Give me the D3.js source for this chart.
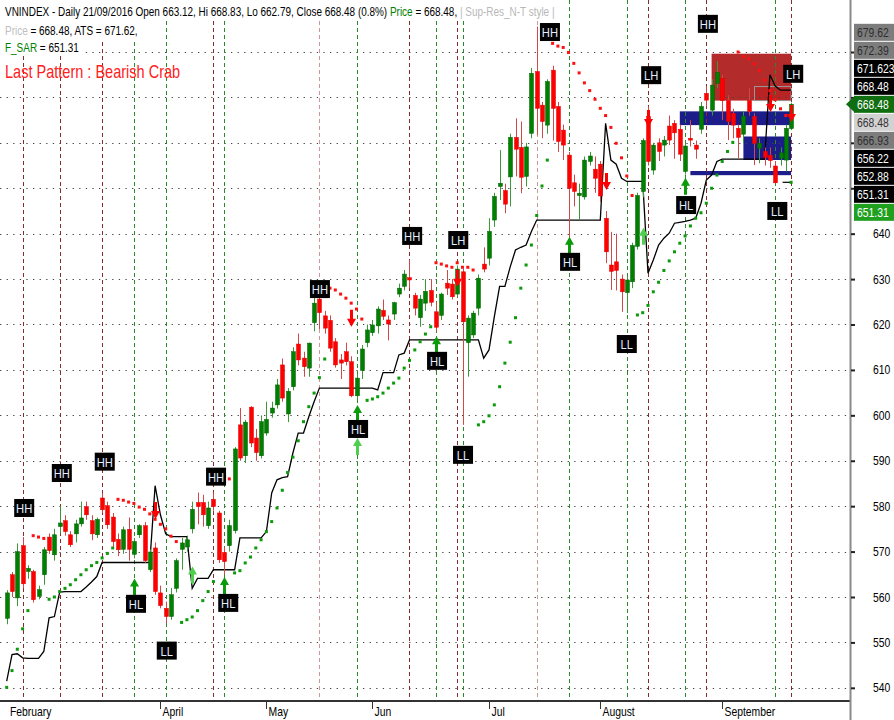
<!DOCTYPE html>
<html>
<head>
<meta charset="utf-8">
<script src="https://cdnjs.cloudflare.com/ajax/libs/d3/7.8.5/d3.min.js"></script>
<style>
body { margin: 0; background: #fff; }
svg { display: block; font-family: "Liberation Sans", Arial, sans-serif; }
</style>
</head>
<body>
<div id="chart"></div>
<script>
// bar index 0 = 22 Feb 2016 ... 148 = 21 Sep 2016
var opens = [555.3,564.9,559.8,571.3,565.6,565.6,560.1,564.9,573.2,569.3,575.5,576.8,573.7,573.9,576.1,579.9,576.8,573.7,581.8,580.1,
  577.6,572.7,570.5,574.9,569.4,573.7,575.7,566.0,570.8,560.9,557.5,555.7,561.9,570.5,571.0,575.0,580.8,580.8,575.7,581.5,
  578.5,569.8,571.3,574.6,597.9,591.1,601.8,595.0,591.1,596.1,600.5,602.3,611.1,600.3,606.3,615.7,612.6,610.4,620.4,625.6,
  621.9,620.9,616.2,612.2,614.0,611.8,604.3,609.9,616.0,618.2,619.7,623.1,621.0,622.3,626.7,628.4,630.3,626.4,621.5,624.7,
  627.5,622.8,622.0,629.1,628.9,626.7,631.6,616.0,617.7,623.6,633.3,634.6,643.0,650.4,649.5,652.5,661.2,659.0,652.6,662.1,
  675.7,668.3,663.9,676.0,668.0,662.8,657.3,651.2,648.4,648.1,655.9,654.2,655.3,643.4,633.1,633.8,630.0,627.0,629.4,637.2,
  649.3,665.8,654.0,660.0,659.5,663.7,664.3,663.0,653.7,661.0,659.5,663.0,670.9,667.2,673.1,674.2,669.3,666.5,663.2,661.9,
  669.3,665.8,658.8,658.1,657.3,654.9,656.6,656.2,663.12];
var highs = [561.5,565.5,571.8,573.2,567.0,566.0,562.5,571.0,574.0,575.0,580.0,578.0,574.5,577.0,581.0,581.0,578.0,577.5,582.9,581.0,
  578.5,574.0,575.5,577.5,573.0,576.0,576.5,570.5,572.0,562.5,559.0,562.0,568.5,573.0,573.5,581.0,583.0,582.5,581.0,583.0,
  579.0,571.0,577.0,593.0,601.6,599.0,602.0,597.0,600.0,603.0,603.0,608.0,612.5,606.0,615.0,618.0,614.0,616.0,626.0,628.0,
  623.0,622.0,617.0,613.5,616.0,613.0,609.0,615.5,620.0,621.0,624.0,625.5,622.0,625.0,629.0,632.0,634.2,627.0,626.5,630.0,
  630.0,625.0,627.0,632.0,630.0,633.0,632.5,622.0,623.0,631.0,637.0,643.4,649.0,658.4,651.0,662.0,665.4,664.7,660.0,676.5,
  685.6,669.0,674.0,677.0,669.0,664.0,658.0,653.0,651.0,657.0,658.0,657.0,656.0,645.0,640.4,640.0,631.0,630.5,638.0,649.0,
  661.0,668.0,660.0,661.0,661.5,666.0,665.0,664.0,660.0,665.0,660.5,669.0,672.5,674.0,678.0,675.0,670.5,667.5,664.0,667.0,
  672.0,666.5,661.0,659.0,659.0,656.0,659.0,664.0,668.83];
var lows = [554.0,560.0,558.0,562.0,564.0,558.8,559.5,562.7,569.5,568.0,574.0,573.5,571.0,572.0,575.5,577.0,572.5,573.0,578.5,575.0,
  571.0,569.0,569.5,568.0,568.5,573.0,567.5,565.5,560.5,557.5,554.2,555.0,561.0,566.0,570.0,574.0,576.0,575.5,575.0,579.0,
  567.5,565.0,570.0,574.0,590.0,589.5,593.0,590.0,590.5,595.5,599.5,601.5,603.0,598.5,605.5,611.0,608.5,608.5,618.5,619.0,
  618.0,614.0,610.5,608.0,611.0,604.0,603.5,608.0,615.0,617.5,618.0,621.0,616.5,621.0,626.0,627.5,628.0,622.0,619.5,623.0,
  624.0,618.5,621.0,626.5,625.5,626.0,597.9,608.5,617.0,622.0,631.5,633.0,641.5,647.4,644.5,646.0,652.6,648.9,650.4,661.0,
  661.7,661.0,662.0,660.5,658.0,656.2,639.0,646.0,643.0,647.5,655.0,649.0,647.0,633.5,627.6,627.5,622.8,622.5,628.0,636.5,
  648.0,655.0,653.0,656.0,657.0,659.5,656.5,656.0,653.0,659.2,656.5,662.0,668.0,666.0,672.0,665.0,660.6,661.0,656.6,660.0,
  666.0,655.1,655.5,655.0,654.5,651.0,655.0,653.7,662.79];
var closes = [560.9,561.2,570.0,562.9,566.3,559.4,561.6,570.4,570.2,573.7,576.3,574.4,571.5,576.1,577.4,578.1,573.9,577.1,579.2,575.9,
  572.2,570.4,574.8,570.5,572.2,575.7,568.0,569.9,561.2,558.1,555.7,560.5,568.0,571.9,572.6,579.3,579.9,578.1,579.6,579.9,
  568.2,567.8,575.7,592.6,590.6,598.5,593.9,591.8,598.6,599.1,601.6,606.7,603.8,605.3,614.0,612.2,610.7,615.9,624.7,622.6,
  619.2,614.8,611.1,611.5,611.8,604.3,608.2,614.6,618.8,619.9,623.4,621.8,620.1,624.8,628.0,631.1,629.8,623.6,625.6,627.3,
  624.9,619.4,626.7,628.0,626.1,632.2,620.6,621.4,622.5,630.2,632.2,640.5,648.2,651.1,646.5,661.2,658.6,652.4,659.1,675.3,
  667.6,664.7,673.5,667.6,660.3,659.5,650.0,649.3,648.9,656.2,657.1,652.2,648.3,636.0,631.7,631.9,627.2,629.8,637.4,648.4,
  660.5,655.9,659.5,658.1,660.6,660.6,662.2,657.5,659.3,660.6,658.6,668.0,669.4,672.7,675.5,669.3,664.7,663.9,661.2,665.9,
  666.9,659.9,659.9,656.8,656.1,651.2,657.8,663.2,668.48];

// adaptive trailing stop (black line)
var ats = [541.5,547.3,547.5,546.6,546.5,546.5,546.5,548.0,555.4,555.7,561.1,561.2,561.2,561.2,561.2,562.2,563.3,564.5,567.6,567.6,
  567.6,567.6,567.6,567.6,567.6,567.6,567.6,567.6,584.5,578.1,573.9,573.3,573.3,573.3,573.3,561.9,564.1,564.1,564.1,566.0,
  566.0,566.0,566.0,566.0,573.0,573.0,573.0,573.0,573.0,574.4,582.9,585.8,586.3,586.5,591.7,596.1,596.1,599.7,603.0,606.0,
  606.0,606.0,606.0,606.0,606.0,606.0,606.0,606.0,606.0,606.0,605.6,609.4,609.4,609.4,613.3,613.7,616.6,616.6,616.6,616.6,
  616.6,616.6,616.6,616.6,616.6,616.6,616.6,616.6,616.6,616.6,612.6,614.4,621.7,628.4,628.4,632.7,636.4,637.0,637.5,640.5,
  643.0,643.0,643.0,643.0,643.0,643.0,643.0,643.0,643.0,643.0,643.0,643.0,643.0,664.3,656.2,655.3,652.2,651.5,651.5,651.5,
  651.5,631.3,634.2,637.5,639.0,640.1,642.3,642.5,642.7,643.0,643.4,646.7,651.8,652.9,655.9,656.4,656.4,656.4,656.4,656.4,
  656.4,656.4,656.4,656.4,675.0,672.5,671.6,671.6,671.62];

// parabolic SAR dots and their side (g = below price, r = above)
var sar = [540.1,543.8,548.5,553.0,557.0,573.5,573.2,572.9,559.5,560.0,561.2,561.9,562.7,563.8,564.9,566.0,566.9,567.6,568.6,569.6,
  570.8,581.5,581.3,580.9,580.6,579.8,579.3,578.3,577.1,576.0,575.0,573.4,572.2,554.4,555.0,555.6,557.0,559.2,561.2,563.4,
  587.0,586.5,586.0,565.3,565.8,567.5,568.8,570.8,572.6,574.4,576.6,579.6,583.5,587.4,590.8,594.4,598.6,601.9,604.9,608.3,
  612.4,628.0,627.6,626.7,625.8,624.7,623.4,621.2,603.3,603.6,604.1,604.9,606.0,607.1,608.2,610.4,612.1,614.4,616.2,617.9,
  619.5,633.6,633.3,632.9,632.6,633.6,632.6,632.6,632.0,597.9,598.6,599.9,602.3,606.3,611.5,616.1,621.5,628.0,633.1,637.5,
  644.0,650.5,656.2,681.9,681.3,681.0,679.9,677.5,675.4,673.2,671.5,669.6,667.6,666.0,663.4,659.9,656.7,652.7,648.4,622.1,
  622.6,624.2,627.2,629.3,631.9,634.0,636.0,637.9,639.5,641.7,643.4,644.6,646.7,650.0,652.9,655.9,658.1,660.1,680.0,679.0,
  678.5,677.4,675.9,673.8,671.5,669.5,667.5,666.0,651.31];
var sarSide = "gggggrrrggggggggggggg" + "rrrrrrrrrrrr" + "ggggggg" + "rrr" + "gggggggggggggggggg" + "rrrrrrr" +
  "ggggggggggggg" + "rrrrrrrr" + "gggggggggggggg" + "rrrrrrrrrrrrrrrr" + "ggggggggggggggggggg" + "rrrrrrrrrr" + "g";

// swing pivots
var pivotIdx   = [3, 10, 18, 24, 30, 39, 41, 59, 66, 76, 81, 85, 86, 100, 106, 117, 121, 128, 132, 145, 148];
var pivotType  = ["HH","HH","HH","HL","LL","HH","HL","HH","HL","HH","HL","LH","LL","HH","HL","LL","LH","HL","HH","LL","LH"];
var pivotLabelAt  = [3.3, 10.4, 18.5, 24.4, 30.2, 39.5, 41.8, 59.1, 66.3, 76.5, 81.2, 85.2, 86.1, 102.5, 106.3, 117, 121.6, 128.2, 132.3, 145.4, 148.4];
var pivotLabelVal = [579.6, 587.3, 589.8, 558.5, 548.2, 586.5, 558.7, 627.8, 597.0, 639.5, 612.0, 638.6, 591.3, 684.4, 633.8, 615.7, 674.9, 646.3, 686.2, 645.0, 675.2];
var pivotFaint = [59, 100];

// signal arrows: bar index, price at arrow tip
var buyIdx = [24, 35, 41, 66, 66, 81, 106, 120, 128];
var buyVal = [564.1, 566.7, 564.4, 602.3, 595.0, 617.4, 639.3, 641.3, 652.3];
var buyFaint = [false, true, false, false, true, false, false, true, false];
var sellIdx = [28, 65, 85, 113, 121, 144, 148];
var sellVal = [577.2, 619.5, 628.3, 649.6, 663.5, 666.8, 664.6];

// support / resistance zones: from bar, to bar, top, bottom
var zoneFrom = [133, 141.1, 127, 139, 129];
var zoneTo   = [148, 148, 148, 148, 148];
var zoneTop  = [679.62, 672.39, 666.93, 661.4, 653.8];
var zoneBot  = [669.3, 669.3, 663.9, 656.22, 652.88];
var zoneKind = ["res", "res2", "sup", "sup", "sup"];

var yTicks = [540, 550, 560, 570, 580, 590, 600, 610, 620, 630, 640, 650, 660, 670, 680];
var monthNames = ["April", "May", "Jun", "Jul", "August", "September"];
var monthIdx = [29, 49, 69, 91, 112, 135];

var rightValues = ["679.62", "672.39", "671.623", "668.48", "668.48", "668.48", "666.93", "656.22", "652.88", "651.31", "651.31"];
var rightKinds  = ["gray", "gray", "black", "black", "close", "light", "gray", "black", "black", "black", "sar"];

// ---------------------------------------------------------------
var W = 894, H = 720;
var plotRight = 850, axisY = 701;
var K = 0.83; // narrow font look

var svg = d3.select("#chart").append("svg")
  .attr("width", W).attr("height", H);

var x = d3.scaleLinear().domain([0, 148]).range([6.7, 791.1]);
var y = d3.scaleLinear().domain([537.1, 691.45]).range([axisY, 0]);

svg.append("clipPath").attr("id", "plot")
  .append("rect").attr("x", 0).attr("y", 0).attr("width", plotRight).attr("height", axisY);

var plot = svg.append("g").attr("clip-path", "url(#plot)");

// zones
var zoneFill = { res: "#b32b2b", res2: "#b82424", sup: "#1c1c8a" };
plot.append("g").selectAll("rect")
  .data(zoneFrom)
  .enter().append("rect")
  .attr("x", function(d) { return x(d); })
  .attr("width", function(d, i) { return x(zoneTo[i]) - x(d); })
  .attr("y", function(d, i) { return y(zoneTop[i]); })
  .attr("height", function(d, i) { return y(zoneBot[i]) - y(zoneTop[i]); })
  .attr("fill", function(d, i) { return zoneFill[zoneKind[i]]; })
  .attr("stroke", function(d, i) { return zoneKind[i] == "res2" ? "#999" : "none"; })
  .attr("stroke-width", 1);

// horizontal dotted grid
plot.append("g").selectAll("line")
  .data(yTicks)
  .enter().append("line")
  .attr("x1", 0).attr("x2", plotRight)
  .attr("y1", function(d) { return Math.round(y(d)) + 0.5; })
  .attr("y2", function(d) { return Math.round(y(d)) + 0.5; })
  .attr("stroke", "#444")
  .attr("stroke-dasharray", "1.3,5.3");

// vertical pivot lines
plot.append("g").selectAll("line")
  .data(pivotIdx)
  .enter().append("line")
  .attr("x1", function(d) { return Math.round(x(d)) + 0.5; })
  .attr("x2", function(d) { return Math.round(x(d)) + 0.5; })
  .attr("y1", 0).attr("y2", axisY)
  .attr("stroke", function(d, i) {
    var hi = pivotType[i].charAt(1) == "H";
    if (pivotFaint.indexOf(d) >= 0) return hi ? "#c99" : "#8c8";
    return hi ? "#8b2a2a" : "#2a8a2a";
  })
  .attr("stroke-dasharray", "4,3");

// ATS line
var atsLine = d3.line()
  .x(function(d, i) { return x(i); })
  .y(function(d) { return y(d); });
plot.append("path")
  .datum(ats)
  .attr("d", atsLine)
  .attr("fill", "none")
  .attr("stroke", "#000")
  .attr("stroke-width", 1.3);

// F_SAR level tick at the end
plot.append("line")
  .attr("x1", x(146.4)).attr("x2", x(148))
  .attr("y1", y(sar[148])).attr("y2", y(sar[148]))
  .attr("stroke", "#000").attr("stroke-width", 1.2);

// SAR dots
plot.append("g").selectAll("rect")
  .data(sar)
  .enter().append("rect")
  .attr("x", function(d, i) { return x(i) - 1.5; })
  .attr("y", function(d) { return y(d) - 1.5; })
  .attr("width", 3).attr("height", 3)
  .attr("fill", function(d, i) { return sarSide.charAt(i) == "g" ? "#0a9a0a" : "#ff1010"; });

// candles
var bars = plot.append("g").selectAll("g")
  .data(closes)
  .enter().append("g");
bars.append("line")
  .attr("x1", function(d, i) { return Math.round(x(i)) + 0.5; })
  .attr("x2", function(d, i) { return Math.round(x(i)) + 0.5; })
  .attr("y1", function(d, i) { return y(highs[i]); })
  .attr("y2", function(d, i) { return y(lows[i]); })
  .attr("stroke", function(d, i) { return d >= opens[i] ? "#3a9a3a" : "#d04848"; })
  .attr("stroke-width", 1);
bars.append("rect")
  .attr("x", function(d, i) { return Math.round(x(i)) - 1.5; })
  .attr("width", 4)
  .attr("y", function(d, i) { return y(Math.max(d, opens[i])); })
  .attr("height", function(d, i) { return Math.max(1, Math.abs(y(d) - y(opens[i]))); })
  .attr("fill", function(d, i) { return d >= opens[i] ? "#008000" : "#ff0000"; })
  .attr("stroke", function(d, i) { return d >= opens[i] ? "#006000" : "#e00000"; })
  .attr("stroke-width", 0.5);

// arrows
function upArrow(cx, ty) {
  return "M" + cx + "," + ty + "L" + (cx + 4.5) + "," + (ty + 8) + "L" + (cx + 1.5) + "," + (ty + 8) +
    "L" + (cx + 1.5) + "," + (ty + 17) + "L" + (cx - 1.5) + "," + (ty + 17) + "L" + (cx - 1.5) + "," + (ty + 8) +
    "L" + (cx - 4.5) + "," + (ty + 8) + "Z";
}
function downArrow(cx, by) {
  return "M" + cx + "," + by + "L" + (cx + 4.5) + "," + (by - 8) + "L" + (cx + 1.5) + "," + (by - 8) +
    "L" + (cx + 1.5) + "," + (by - 17) + "L" + (cx - 1.5) + "," + (by - 17) + "L" + (cx - 1.5) + "," + (by - 8) +
    "L" + (cx - 4.5) + "," + (by - 8) + "Z";
}
plot.append("g").selectAll("path")
  .data(buyIdx)
  .enter().append("path")
  .attr("d", function(d, i) { return upArrow(Math.round(x(d)) + 0.5, y(buyVal[i])); })
  .attr("fill", function(d, i) { return buyFaint[i] ? "#4ed04e" : "#0a9a0a"; });
plot.append("g").selectAll("path")
  .data(sellIdx)
  .enter().append("path")
  .attr("d", function(d, i) { return downArrow(Math.round(x(d)) + 0.5, y(sellVal[i])); })
  .attr("fill", "#ff0000");

// text helper: condensed look via horizontal scale
function addText(g, tx, ty, parts, size, anchor) {
  var t = g.append("text")
    .attr("x", 0).attr("y", 0)
    .attr("font-size", size)
    .attr("text-anchor", anchor || "start")
    .attr("transform", "translate(" + tx + "," + ty + ") scale(" + K + ",1)");
  parts.forEach(function(p) { t.append("tspan").attr("fill", p[1]).text(p[0]); });
  return t;
}

// pivot labels
var lab = plot.append("g");
pivotIdx.forEach(function(d, i) {
  var cx = x(pivotLabelAt[i]), cy = y(pivotLabelVal[i]);
  lab.append("rect")
    .attr("x", cx - 10).attr("y", cy - 9)
    .attr("width", 20).attr("height", 18)
    .attr("fill", "#000");
  addText(lab, cx, cy + 5, [[pivotType[i], "#e4eeff"]], 13.5, "middle");
});

// header texts with white backgrounds
var head = svg.append("g");
var headLines = [
  { y: 16, parts: [["VNINDEX - Daily 21/09/2016 Open 663.12, Hi 668.83, Lo 662.79, Close 668.48 (0.8%) ", "#000"],
                   ["Price", "#008000"], [" = 668.48,  ", "#000"], ["| Sup-Res_N-T style |", "#b8b8b8"]], top: 0 },
  { y: 35, parts: [["Price", "#c0c0c0"], [" = 668.48, ATS = 671.62,", "#000"]], top: 20 },
  { y: 52, parts: [["F_SAR", "#008000"], [" = 651.31", "#000"]], top: 38 }
];
headLines.forEach(function(l) {
  var bg = head.append("rect").attr("fill", "#fff");
  var t = addText(head, 5, l.y, l.parts, 12, "start");
  var w = t.node().getComputedTextLength() * K;
  bg.attr("x", 0).attr("y", l.top).attr("width", w + 8).attr("height", l.y + 4 - l.top);
});
addText(head, 5, 78, [["Last Pattern : Bearish Crab", "#ff2020"]], 17.5, "start");

// x axis
svg.append("line")
  .attr("x1", 0).attr("x2", plotRight)
  .attr("y1", axisY).attr("y2", axisY)
  .attr("stroke", "#333").attr("stroke-width", 2);
var xAxisG = svg.append("g");
monthIdx.forEach(function(d, i) {
  var mx = Math.round(x(d)) + 0.5;
  xAxisG.append("line").attr("x1", mx).attr("x2", mx).attr("y1", axisY).attr("y2", axisY + 8)
    .attr("stroke", "#333");
  addText(xAxisG, mx + 2, 716, [[monthNames[i], "#000"]], 12.5, "start");
});
addText(xAxisG, 10, 716, [["February", "#000"]], 12.5, "start");

// right axis
svg.append("line")
  .attr("x1", plotRight + 0.5).attr("x2", plotRight + 0.5)
  .attr("y1", 0).attr("y2", H)
  .attr("stroke", "#8a8a8a").attr("stroke-width", 2);
var yAxis = d3.axisRight(y).tickValues(yTicks).tickSize(4).tickFormat(function(d) { return d <= 640 ? d : ""; });
var yAxisG = svg.append("g")
  .attr("transform", "translate(" + (plotRight + 1) + ",0)")
  .call(yAxis);
yAxisG.select(".domain").remove();
yAxisG.selectAll(".tick line").attr("stroke", "#222").attr("stroke-width", 2);
yAxisG.selectAll(".tick text")
  .attr("font-size", 12.5)
  .attr("font-family", "Liberation Sans, Arial, sans-serif")
  .attr("transform", "scale(" + K + ",1)")
  .attr("x", 22 / K)
  .attr("fill", "#000");

// right value labels, stacked around the close
var boxStyle = {
  gray:  ["#7d7d7d", "#2e2e2e"],
  black: ["#000", "#fff"],
  close: ["#0f6e0f", "#fff"],
  light: ["#d2d2d2", "#333"],
  sar:   ["#1fa01f", "#fff"]
};
var rl = svg.append("g");
var closeY = y(closes[148]);
rightValues.forEach(function(v, i) {
  var cy = closeY + (i - 4) * 18;
  var st = boxStyle[rightKinds[i]];
  rl.append("rect").attr("x", 854).attr("y", cy - 8.5).attr("width", 40).attr("height", 17).attr("fill", st[0]);
  if (rightKinds[i] == "close") {
    rl.append("path")
      .attr("d", "M846," + cy + "L855," + (cy - 8.5) + "L855," + (cy + 8.5) + "Z")
      .attr("fill", st[0]);
  }
  addText(rl, 857, cy + 4.5, [[v, st[1]]], 12.5, "start");
});
</script>
</body>
</html>
